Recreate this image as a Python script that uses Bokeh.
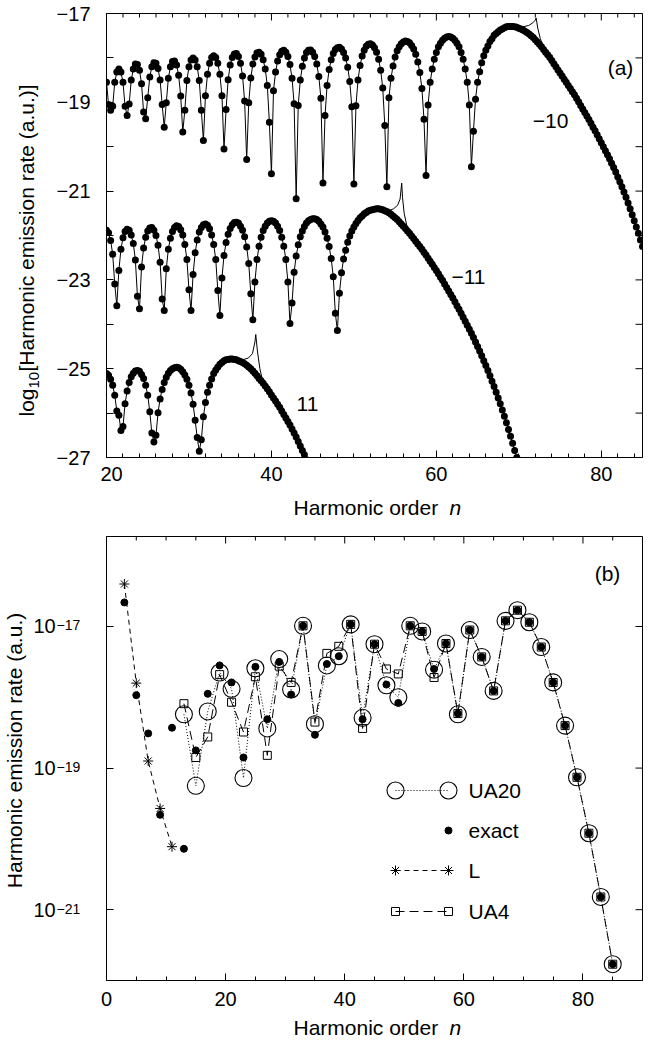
from bokeh.plotting import figure
from bokeh.models import Range1d, FixedTicker, CustomJSTickFormatter, Plot
from bokeh.core.properties import value
from bokeh.layouts import column, row
from bokeh.embed import file_html
from bokeh.resources import INLINE

FONT = "Liberation Sans"
HAS_FRAME_ALIGN = "frame_align" in Plot.properties()

# ---------------- panel (a): log10 emission rate, sampled every N_STEP in n ----------------
N_START = 20.0
N_STEP = 0.25

LOG_RATE_M10 = [
    -18.55, -19.05, -19.18, -19.09,  -18.55, -18.32, -18.25, -18.32,
    -18.55, -19.09, -19.30, -19.04,  -18.50, -18.25, -18.14, -18.15,
    -18.28, -18.58, -19.22, -19.37,  -18.90, -18.43, -18.20, -18.11,
    -18.12, -18.24, -18.50, -19.05,  -19.56, -19.01, -18.46, -18.20,
    -18.08, -18.07, -18.16, -18.39,  -18.86, -19.67, -19.18, -18.51,
    -18.20, -18.05, -18.00, -18.05,  -18.20, -18.51, -19.18, -19.86,
    -18.85, -18.37, -18.12, -17.99,  -17.95, -17.99, -18.12, -18.37,
    -18.85, -20.05, -19.16, -18.49,  -18.16, -17.99, -17.91, -17.90,
    -17.97, -18.12, -18.41, -18.97,  -20.29, -19.01, -18.45, -18.14,
    -17.98, -17.89, -17.87, -17.92,  -18.04, -18.25, -18.62, -19.45,
    -20.61, -18.74, -18.32, -18.07,  -17.93, -17.85, -17.83, -17.87,
    -17.97, -18.15, -18.46, -19.03,  -21.17, -19.07, -18.50, -18.19,
    -18.00, -17.88, -17.83, -17.82,  -17.87, -17.97, -18.14, -18.42,
    -18.91, -20.82, -19.30, -18.62,  -18.26, -18.04, -17.90, -17.81,
    -17.77, -17.76, -17.80, -17.88,  -18.00, -18.21, -18.53, -19.10,
    -20.84, -19.08, -18.50, -18.17,  -17.96, -17.83, -17.74, -17.69,
    -17.68, -17.71, -17.77, -17.87,  -18.03, -18.28, -18.68, -19.52,
    -20.90, -18.90, -18.46, -18.18,  -17.98, -17.84, -17.75, -17.68,
    -17.64, -17.62, -17.63, -17.66,  -17.72, -17.80, -17.92, -18.09,
    -18.33, -18.69, -19.38, -20.65,  -19.06, -18.55, -18.25, -18.03,
    -17.88, -17.75, -17.67, -17.60,  -17.56, -17.53, -17.52, -17.53,
    -17.56, -17.60, -17.67, -17.75,  -17.88, -18.03, -18.25, -18.55,
    -19.06, -20.45, -19.65, -18.93,  -18.55, -18.31, -18.11, -17.95,
    -17.83, -17.73, -17.63, -17.57,  -17.49, -17.45, -17.41, -17.37,
    -17.35, -17.32, -17.30, -17.29,  -17.29, -17.29, -17.30, -17.31,
    -17.33, -17.35, -17.37, -17.40,  -17.43, -17.46, -17.50, -17.54,
    -17.59, -17.64, -17.69, -17.75,  -17.81, -17.87, -17.93, -17.99,
    -18.06, -18.13, -18.20, -18.27,  -18.34, -18.41, -18.48, -18.55,
    -18.62, -18.69, -18.76, -18.83,  -18.91, -18.99, -19.07, -19.15,
    -19.23, -19.31, -19.39, -19.47,  -19.56, -19.64, -19.73, -19.82,
    -19.91, -20.00, -20.09, -20.18,  -20.27, -20.37, -20.47, -20.57,
    -20.68, -20.79, -20.90, -21.02,  -21.14, -21.27, -21.40, -21.53,
    -21.67, -21.81, -21.95, -22.10,  -22.25,
]

LOG_RATE_M11 = [
    -21.88, -21.94, -22.11, -22.42,  -23.09, -23.58, -22.79, -22.31,
    -22.05, -21.91, -21.86, -21.88,  -21.99, -22.18, -22.55, -23.37,
    -23.65, -22.71, -22.28, -22.04,  -21.90, -21.83, -21.82, -21.88,
    -22.00, -22.22, -22.60, -23.43,  -23.69, -22.75, -22.31, -22.06,
    -21.91, -21.82, -21.78, -21.80,  -21.87, -21.99, -22.20, -22.54,
    -23.22, -23.69, -22.88, -22.39,  -22.10, -21.92, -21.82, -21.76,
    -21.74, -21.77, -21.85, -21.99,  -22.20, -22.54, -23.24, -23.80,
    -22.96, -22.45, -22.16, -21.97,  -21.84, -21.76, -21.71, -21.70,
    -21.72, -21.79, -21.88, -22.03,  -22.26, -22.63, -23.31, -23.90,
    -23.05, -22.54, -22.24, -22.04,  -21.89, -21.79, -21.72, -21.68,
    -21.67, -21.68, -21.72, -21.79,  -21.89, -22.04, -22.24, -22.54,
    -23.05, -23.98, -23.52, -22.83,  -22.46, -22.21, -22.03, -21.90,
    -21.80, -21.72, -21.67, -21.64,  -21.62, -21.62, -21.64, -21.68,
    -21.74, -21.81, -21.92, -22.06,  -22.25, -22.52, -22.93, -23.75,
    -24.14, -23.30, -22.84, -22.53,  -22.33, -22.15, -22.01, -21.90,
    -21.81, -21.73, -21.66, -21.60,  -21.56, -21.51, -21.48, -21.45,
    -21.43, -21.42, -21.41, -21.40,  -21.40, -21.41, -21.42, -21.44,
    -21.46, -21.49, -21.52, -21.56,  -21.60, -21.64, -21.69, -21.74,
    -21.79, -21.84, -21.90, -21.95,  -22.01, -22.07, -22.13, -22.19,
    -22.25, -22.31, -22.38, -22.44,  -22.51, -22.58, -22.65, -22.72,
    -22.79, -22.86, -22.94, -23.01,  -23.09, -23.17, -23.25, -23.33,
    -23.41, -23.49, -23.58, -23.66,  -23.75, -23.84, -23.93, -24.02,
    -24.11, -24.20, -24.30, -24.40,  -24.50, -24.60, -24.71, -24.82,
    -24.93, -25.04, -25.16, -25.28,  -25.40, -25.53, -25.66, -25.79,
    -25.93, -26.07, -26.22, -26.37,  -26.52, -26.68, -26.84, -27.00,
    -27.17,
]

LOG_RATE_P11 = [
    -25.11, -25.15, -25.24, -25.37,  -25.60, -25.95, -26.05, -26.39,
    -26.30, -25.79, -25.50, -25.31,  -25.18, -25.10, -25.05, -25.04,
    -25.06, -25.13, -25.22, -25.37,  -25.60, -25.97, -26.45, -26.65,
    -26.50, -25.99, -25.68, -25.47,  -25.31, -25.19, -25.10, -25.04,
    -25.00, -24.98, -24.97, -24.98,  -25.01, -25.07, -25.14, -25.24,
    -25.37, -25.55, -25.80, -26.16,  -26.55, -26.86, -26.60, -26.08,
    -25.76, -25.53, -25.37, -25.23,  -25.11, -25.03, -24.96, -24.90,
    -24.86, -24.82, -24.80, -24.79,  -24.78, -24.78, -24.79, -24.80,
    -24.82, -24.84, -24.86, -24.89,  -24.92, -24.96, -25.00, -25.05,
    -25.10, -25.16, -25.22, -25.27,  -25.33, -25.39, -25.45, -25.52,
    -25.59, -25.66, -25.73, -25.80,  -25.87, -25.95, -26.03, -26.11,
    -26.19, -26.27, -26.36, -26.45,  -26.54, -26.64, -26.74, -26.84,
    -26.94, -27.05, -27.16,
]

# thin (line-only) curves near the cutoffs
CUSP_M10_N = [69.5, 70.5, 71.2, 71.7, 72.0, 72.1, 72.3, 72.6, 73.0, 73.4]
CUSP_M10_Y = [-17.30, -17.30, -17.27, -17.21, -17.15, -17.10, -17.33, -17.56, -17.77, -17.92]
CUSP_M11_N = [54.0, 54.8, 55.3, 55.6, 55.8, 55.9, 56.1, 56.5, 57.0]
CUSP_M11_Y = [-21.46, -21.40, -21.32, -21.18, -20.82, -21.15, -21.50, -21.85, -22.01]
CUSP_P11_N = [35.5, 36.5, 37.2, 37.7, 38.0, 38.1, 38.3, 38.6, 39.0]
CUSP_P11_Y = [-24.79, -24.80, -24.76, -24.66, -24.40, -24.23, -24.60, -25.00, -25.33]

CURVE_LABELS = ["\u221210", "\u221211", "11"]

# ---------------- panel (b): harmonic emission rate (log10 of a.u.) ----------------
EXACT_N = [3, 5, 7, 9, 11, 13, 15, 17, 19, 21, 23, 25, 27, 29, 31, 33, 35, 37, 39, 41, 43,
           45, 47, 49, 51, 53, 55, 57, 59, 61, 63, 65, 67, 69, 71, 73, 75, 77, 79, 81, 83, 85]
EXACT_LOG = [-16.66, -17.97, -18.51, -19.66, -18.43, -20.14, -18.75, -17.95, -17.55, -17.79,
             -18.85, -17.57, -18.31, -17.50, -17.96, -16.99, -18.53, -17.53, -17.42, -16.97,
             -18.31, -17.25, -17.82, -18.08, -16.99, -17.07, -17.60, -17.24, -18.23, -17.05,
             -17.43, -17.91, -16.92, -16.77, -16.94, -17.29, -17.79, -18.40, -19.13, -19.92,
             -20.82, -21.77]
UA20_N = [13, 15, 17, 19, 21, 23, 25, 27, 29, 31, 33, 35, 37, 39, 41, 43, 45, 47, 49, 51,
          53, 55, 57, 59, 61, 63, 65, 67, 69, 71, 73, 75, 77, 79, 81, 83, 85]
UA20_LOG = [-18.24, -19.25, -18.20, -17.65, -17.88, -19.14, -17.59, -18.44, -17.46, -17.89,
            -16.99, -18.38, -17.55, -17.42, -16.97, -18.29, -17.25, -17.83, -18.00, -16.99,
            -17.07, -17.61, -17.24, -18.24, -17.05, -17.43, -17.91, -16.92, -16.77, -16.94,
            -17.29, -17.79, -18.40, -19.13, -19.92, -20.82, -21.77]
UA4_N = [13, 15, 17, 19, 21, 23, 25, 27, 29, 31, 33, 35, 37, 39, 41, 43, 45, 47, 49, 51,
         53, 55, 57, 59, 61, 63, 65, 67, 69, 71, 73, 75, 77, 79, 81, 83, 85]
UA4_LOG = [-18.09, -18.85, -18.56, -17.68, -18.07, -18.49, -17.71, -18.82, -17.56, -17.79,
           -16.99, -18.35, -17.38, -17.28, -16.97, -18.44, -17.25, -17.60, -17.67, -16.99,
           -17.07, -17.72, -17.24, -18.23, -17.05, -17.43, -17.91, -16.92, -16.77, -16.94,
           -17.29, -17.79, -18.40, -19.13, -19.92, -20.82, -21.77]
L_N = [3, 5, 7, 9, 11]
L_LOG = [-16.40, -17.80, -18.90, -19.57, -20.11]

SERIES_NAMES = ["UA20", "exact", "L", "UA4"]

X1_TICKS = [20, 40, 60, 80]
X1_MINOR = [22, 24, 26, 28, 30, 32, 34, 36, 38, 42, 44, 46, 48, 50, 52, 54, 56, 58,
            62, 64, 66, 68, 70, 72, 74, 76, 78, 82, 84]
Y1_TICKS = [-27, -25, -23, -21, -19, -17]
Y1_MINOR = [-26, -24, -22, -20, -18]
X2_TICKS = [0, 20, 40, 60, 80]
X2_MINOR = [5, 10, 15, 25, 30, 35, 45, 50, 55, 65, 70, 75, 85, 90]
Y2_EXP = [-21, -19, -17]

# ---------------- layout geometry (pixels) ----------------
W = 662
FL, FR = 106, 642
A_T, A_B = 13, 457
B_T, B_B = 536, 980
A_X = (20.0, 85.0)
A_Y = (-27.0, -17.0)
B_X = (0.0, 90.0)
B_Y = (-22.0, -15.729)
LA_W, LB_W = 100, 80         # left margin strips
A_ROW_H, TA_H = 491, 29      # panel (a) row and its x-title strip
B_ROW_H, TB_H = 496, 26      # panel (b) row and its x-title strip
TICK_MAJ, TICK_MIN = 7, 4


def ax_v(py):
    return A_Y[1] - (py - A_T) * (A_Y[1] - A_Y[0]) / (A_B - A_T)


def an(px):
    return A_X[0] + (px - FL) * (A_X[1] - A_X[0]) / (FR - FL)


def bx_n(px):
    return B_X[0] + (px - FL) * (B_X[1] - B_X[0]) / (FR - FL)


def bx_v(py):
    return 10 ** (B_Y[1] - (py - B_T) * (B_Y[1] - B_Y[0]) / (B_B - B_T))


def clean(p):
    p.outline_line_color = None
    p.background_fill_color = "white"
    p.border_fill_color = "white"
    for g in p.grid:
        g.visible = False


def style_main(p):
    p.xgrid.visible = False
    p.ygrid.visible = False
    p.outline_line_color = "black"
    p.outline_line_width = 1
    p.background_fill_color = "white"
    p.border_fill_color = "white"
    for ax in p.axis:
        ax.axis_line_color = "black"
        ax.major_tick_line_color = "black"
        ax.minor_tick_line_color = "black"
        ax.major_tick_in = TICK_MAJ
        ax.major_tick_out = 0
        ax.minor_tick_in = TICK_MIN
        ax.minor_tick_out = 0
        ax.major_label_text_font = FONT
        ax.major_label_text_font_size = "20px"
        ax.major_label_text_color = "black"


def texts(p, xs, ys, ss, size="21px", align="center", baseline="middle", angle=0.0, style_="normal"):
    p.text(x=xs, y=ys, text=ss, angle=angle, text_font=value(FONT), text_font_size=value(size),
           text_align=align, text_baseline=baseline, text_font_style=style_, text_color="black")


def margin(w, h, xr, yr, top=0, bottom=0, ylog=False):
    f = figure(width=w, height=h, x_range=xr, y_range=yr,
               y_axis_type="log" if ylog else "linear",
               x_axis_location=None, y_axis_location=None,
               output_backend="svg", toolbar_location=None,
               min_border_left=0, min_border_right=0, min_border_top=top, min_border_bottom=bottom)
    clean(f)
    return f


def hide_y_labels(p, standoff):
    p.yaxis.formatter = CustomJSTickFormatter(code="return '';")
    p.yaxis.major_label_text_color = None
    p.yaxis.major_label_standoff = standoff


# ---------------- panel (a) ----------------
p1 = figure(width=W - LA_W, height=A_ROW_H, x_range=Range1d(*A_X), y_range=Range1d(*A_Y),
            output_backend="svg", toolbar_location=None,
            min_border_left=FL - LA_W, min_border_right=W - FR,
            min_border_top=A_T, min_border_bottom=A_ROW_H - A_B)
p1.xaxis.ticker = FixedTicker(ticks=X1_TICKS, minor_ticks=X1_MINOR)
p1.yaxis.ticker = FixedTicker(ticks=Y1_TICKS, minor_ticks=Y1_MINOR)
style_main(p1)
p1.yaxis.minor_tick_in = TICK_MAJ
p1.xaxis.major_label_standoff = 9
hide_y_labels(p1, FL - LA_W)

# mirrored ticks on top and right edges
dy_maj = TICK_MAJ * (A_Y[1] - A_Y[0]) / (A_B - A_T)
dy_min = TICK_MIN * (A_Y[1] - A_Y[0]) / (A_B - A_T)
dx_maj = TICK_MAJ * (A_X[1] - A_X[0]) / (FR - FL)
p1.segment(x0=X1_TICKS, y0=[A_Y[1]] * len(X1_TICKS), x1=X1_TICKS, y1=[A_Y[1] - dy_maj] * len(X1_TICKS),
           line_color="black", line_width=1)
p1.segment(x0=X1_MINOR, y0=[A_Y[1]] * len(X1_MINOR), x1=X1_MINOR, y1=[A_Y[1] - dy_min] * len(X1_MINOR),
           line_color="black", line_width=1)
y1_all = Y1_TICKS + Y1_MINOR
p1.segment(x0=[A_X[1]] * len(y1_all), y0=y1_all, x1=[A_X[1] - dx_maj] * len(y1_all), y1=y1_all,
           line_color="black", line_width=1)

for vals in (LOG_RATE_M10, LOG_RATE_M11, LOG_RATE_P11):
    ns = [N_START + N_STEP * i for i in range(len(vals))]
    p1.line(ns, vals, line_color="black", line_width=1)
    p1.scatter(ns, vals, marker="circle", size=7, fill_color="black", line_color=None)
for cn, cy in ((CUSP_M10_N, CUSP_M10_Y), (CUSP_M11_N, CUSP_M11_Y), (CUSP_P11_N, CUSP_P11_Y)):
    p1.line(cn, cy, line_color="black", line_width=1)

texts(p1, [an(550), an(468), an(307), an(620)], [ax_v(120), ax_v(276), ax_v(403), ax_v(67)],
      CURVE_LABELS + ["(a)"])

# left strip of (a): y tick labels and y title with subscript
if HAS_FRAME_ALIGN:
    # frame spans the whole strip, so the edge tick labels are not clipped
    la = margin(LA_W, A_ROW_H, Range1d(0, LA_W), Range1d(ax_v(A_ROW_H), ax_v(0)))
    la.frame_align = False
else:
    la = margin(LA_W, A_ROW_H, Range1d(0, LA_W), Range1d(*A_Y), top=A_T, bottom=A_ROW_H - A_B)
texts(la, [90] * len(Y1_TICKS), Y1_TICKS, ["\u2212%d" % abs(t) for t in Y1_TICKS], size="20px", align="right")
texts(la, [26], [ax_v(416)], ["log"], align="left", angle=1.5707963)
texts(la, [33], [ax_v(388)], ["10"], size="15px", align="left", angle=1.5707963)
texts(la, [26], [ax_v(371)], ["[Harmonic emission rate (a.u.)]"], align="left", angle=1.5707963)

# x-title strip of (a)
ta = margin(W, TA_H, Range1d(0, W), Range1d(TA_H, 0))
texts(ta, [293], [16], ["Harmonic order"], align="left")
texts(ta, [449], [16], ["n"], align="left", style_="italic")

# ---------------- panel (b) ----------------
row_b_top = A_ROW_H + TA_H
p2 = figure(width=W - LB_W, height=B_ROW_H, x_range=Range1d(*B_X), y_axis_type="log",
            y_range=Range1d(10 ** B_Y[0], 10 ** B_Y[1]),
            output_backend="svg", toolbar_location=None,
            min_border_left=FL - LB_W, min_border_right=W - FR,
            min_border_top=B_T - row_b_top, min_border_bottom=B_ROW_H - (B_B - row_b_top))
y2_ticks = [10.0 ** e for e in Y2_EXP]
p2.xaxis.ticker = FixedTicker(ticks=X2_TICKS, minor_ticks=X2_MINOR)
p2.yaxis.ticker = FixedTicker(ticks=y2_ticks, minor_ticks=[])
style_main(p2)
p2.xaxis.major_label_standoff = 11
hide_y_labels(p2, FL - LB_W)

# mirrored ticks
fy = (B_Y[1] - B_Y[0]) / (B_B - B_T)
dx2 = TICK_MAJ * (B_X[1] - B_X[0]) / (FR - FL)
top_v = 10 ** B_Y[1]
p2.segment(x0=X2_TICKS, y0=[top_v] * len(X2_TICKS), x1=X2_TICKS,
           y1=[10 ** (B_Y[1] - TICK_MAJ * fy)] * len(X2_TICKS), line_color="black", line_width=1)
p2.segment(x0=X2_MINOR, y0=[top_v] * len(X2_MINOR), x1=X2_MINOR,
           y1=[10 ** (B_Y[1] - TICK_MIN * fy)] * len(X2_MINOR), line_color="black", line_width=1)
p2.segment(x0=[B_X[1]] * len(y2_ticks), y0=y2_ticks, x1=[B_X[1] - dx2] * len(y2_ticks), y1=y2_ticks,
           line_color="black", line_width=1)

ex_y = [10 ** v for v in EXACT_LOG]
u20_y = [10 ** v for v in UA20_LOG]
u4_y = [10 ** v for v in UA4_LOG]
l_y = [10 ** v for v in L_LOG]

DOT = "1 2"
DASH = "9 5"
SHORTDASH = "5 4"

p2.line(UA20_N, u20_y, line_color="black", line_width=1, line_dash=DOT)
p2.line(UA4_N, u4_y, line_color="black", line_width=1, line_dash=DASH)
p2.line(L_N, l_y, line_color="black", line_width=1, line_dash=SHORTDASH)
p2.scatter(UA20_N, u20_y, marker="circle", size=17, fill_color=None, line_color="black", line_width=1.1)
p2.scatter(UA4_N, u4_y, marker="square", size=8, fill_color=None, line_color="black", line_width=1)
p2.scatter(L_N, l_y, marker="asterisk", size=10, line_color="black", line_width=1)
p2.scatter(EXACT_N, ex_y, marker="circle", size=7, fill_color="black", line_color="black")

# legend (drawn)
lx0, lx1, ltx = bx_n(395), bx_n(448), bx_n(468)
rows = [bx_v(790), bx_v(830), bx_v(870), bx_v(911)]
p2.line([lx0, lx1], [rows[0]] * 2, line_color="black", line_width=1, line_dash=DOT)
p2.scatter([lx0, lx1], [rows[0]] * 2, marker="circle", size=17, fill_color=None, line_color="black", line_width=1.1)
p2.scatter([lx1], [rows[1]], marker="circle", size=7, fill_color="black", line_color="black")
p2.line([lx0, lx1], [rows[2]] * 2, line_color="black", line_width=1, line_dash=SHORTDASH)
p2.scatter([lx0, lx1], [rows[2]] * 2, marker="asterisk", size=10, line_color="black", line_width=1)
p2.line([lx0, lx1], [rows[3]] * 2, line_color="black", line_width=1, line_dash=DASH)
p2.scatter([lx0, lx1], [rows[3]] * 2, marker="square", size=8, fill_color=None, line_color="black", line_width=1)
texts(p2, [ltx] * 4, rows, SERIES_NAMES, align="left")
texts(p2, [bx_n(607)], [bx_v(573)], ["(b)"])

# left strip of (b): y title and 10^e tick labels
lb = margin(LB_W, B_ROW_H, Range1d(0, LB_W), Range1d(10 ** B_Y[0], 10 ** B_Y[1]),
            top=B_T - row_b_top, bottom=B_ROW_H - (B_B - row_b_top), ylog=True)
texts(lb, [14], [bx_v(750)], ["Harmonic emission rate (a.u.)"], angle=1.5707963)
texts(lb, [33] * len(y2_ticks), y2_ticks, ["10"] * len(y2_ticks), size="20px", align="left")
texts(lb, [56] * len(y2_ticks), [t * 10 ** (1.0 / 70.8) for t in y2_ticks],
      ["\u2212%d" % abs(e) for e in Y2_EXP], size="14px", align="left", baseline="alphabetic")

# x-title strip of (b)
tb = margin(W, TB_H, Range1d(0, W), Range1d(TB_H, 0))
texts(tb, [293], [11], ["Harmonic order"], align="left")
texts(tb, [449], [11], ["n"], align="left", style_="italic")

layout = column(row(la, p1), ta, row(lb, p2), tb)
open("out.html", "w").write(file_html(layout, INLINE))
